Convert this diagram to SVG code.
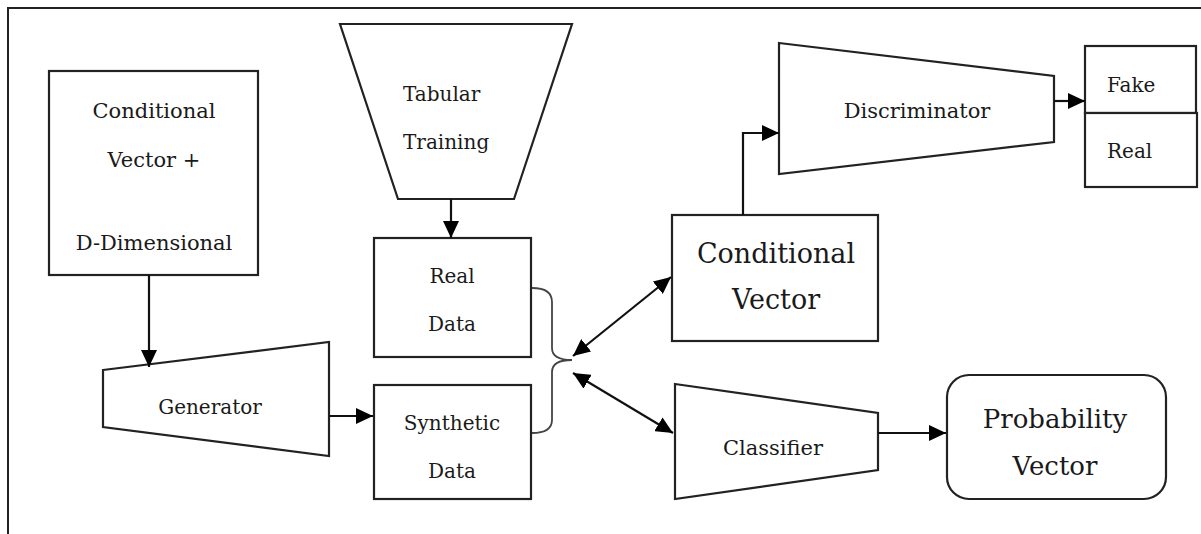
<svg xmlns="http://www.w3.org/2000/svg" width="1201" height="534" viewBox="0 0 1201 534">
<style>
.shape{fill:#fff;stroke:#222;stroke-width:2.2;stroke-linejoin:miter}
.t{font-family:"DejaVu Serif","Liberation Serif",serif;fill:#1a1a1a;font-size:20px;text-anchor:middle}
.big{font-size:26px}
.conn{fill:none;stroke:#111;stroke-width:2.2}
.brace{fill:none;stroke:#444;stroke-width:1.8}
</style>
<defs>
<marker id="ah" markerUnits="userSpaceOnUse" markerWidth="17" markerHeight="16" refX="17" refY="8" orient="auto-start-reverse">
<path d="M0,0 L17,8 L0,16 z" fill="#000"/>
</marker>
</defs>
<rect width="1201" height="534" fill="#fff"/>
<path d="M8,534 V8 H1201" fill="none" stroke="#222" stroke-width="2"/>

<g id="cond-dd">
<rect class="shape" x="49" y="71" width="209" height="204"/>
<text class="t" x="154" y="118" style="font-size:21px">Conditional</text>
<text class="t" x="154" y="167" style="font-size:21px">Vector +</text>
<text class="t" x="154" y="250" style="font-size:21px">D-Dimensional</text>
</g>

<g id="generator">
<polygon class="shape" points="103,370 329,342 329,456 103,427"/>
<text class="t" x="210" y="414">Generator</text>
</g>

<g id="tabular">
<polygon class="shape" points="340,24 572,24 514,199 398,199"/>
<text class="t" x="403" y="101" style="text-anchor:start">Tabular</text>
<text class="t" x="403" y="149" style="text-anchor:start">Training</text>
</g>

<g id="real-data">
<rect class="shape" x="374" y="238" width="157" height="119"/>
<text class="t" x="452" y="283">Real</text>
<text class="t" x="452" y="331">Data</text>
</g>

<g id="synthetic-data">
<rect class="shape" x="374" y="385" width="157" height="114"/>
<text class="t" x="452" y="430">Synthetic</text>
<text class="t" x="452" y="478">Data</text>
</g>

<g id="conditional-vector">
<rect class="shape" x="672" y="215" width="206" height="126"/>
<text class="t big" x="776" y="263" style="font-size:27px">Conditional</text>
<text class="t big" x="776" y="309" style="font-size:27px">Vector</text>
</g>

<g id="discriminator">
<polygon class="shape" points="779,43 1054,76 1054,142 779,174"/>
<text class="t" x="917" y="118" style="font-size:21px">Discriminator</text>
</g>

<g id="fake">
<rect class="shape" x="1085" y="46" width="111" height="67"/>
<text class="t" x="1107" y="92" style="text-anchor:start">Fake</text>
</g>

<g id="real">
<rect class="shape" x="1085" y="113" width="112" height="74"/>
<text class="t" x="1107" y="158" style="text-anchor:start">Real</text>
</g>

<g id="classifier">
<polygon class="shape" points="675,384 878,413 878,470 675,499"/>
<text class="t" x="773" y="455" style="font-size:21px">Classifier</text>
</g>

<g id="probability-vector">
<rect class="shape" x="947" y="375" width="219" height="124" rx="22" ry="22"/>
<text class="t big" x="1055" y="428">Probability</text>
<text class="t big" x="1055" y="475">Vector</text>
</g>

<g id="connectors">
<path class="conn" d="M149,275 V367" marker-end="url(#ah)"/>
<path class="conn" d="M329,416 H373" marker-end="url(#ah)"/>
<path class="conn" d="M451,199 V238" marker-end="url(#ah)"/>
<path class="conn" d="M743,215 V133 H779" marker-end="url(#ah)"/>
<path class="conn" d="M1054,101 H1085" marker-end="url(#ah)"/>
<path class="conn" d="M573,356 L671,277" marker-start="url(#ah)" marker-end="url(#ah)"/>
<path class="conn" d="M573,373 L673,433" marker-start="url(#ah)" marker-end="url(#ah)"/>
<path class="conn" d="M878,433 H946" marker-end="url(#ah)"/>
<path class="brace" d="M532,288 Q552,288 552,302 L552,348 Q552,360 572,360 Q552,360 552,372 L552,420 Q552,433 532,433"/>
</g>
</svg>
